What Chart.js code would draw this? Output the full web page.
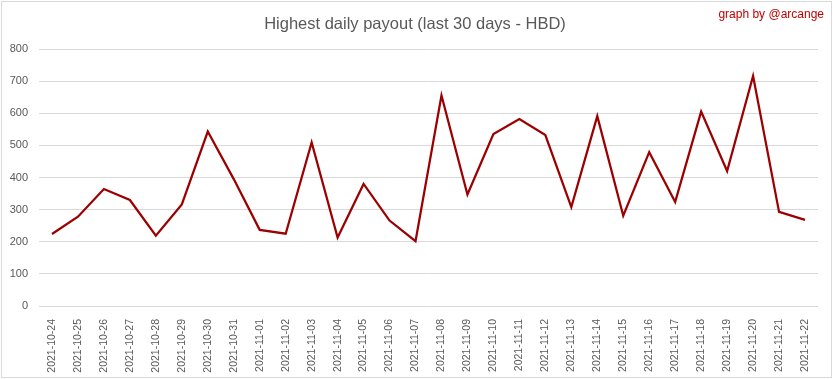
<!DOCTYPE html>
<html>
<head>
<meta charset="utf-8">
<script src="https://cdn.jsdelivr.net/npm/chart.js@4.4.0/dist/chart.umd.min.js"></script>
<style>
  html, body { margin: 0; padding: 0; background: #ffffff; }
  #wrap { width: 833px; height: 379px; position: relative; }
</style>
</head>
<body>
<div id="wrap"><canvas id="c" width="833" height="379"></canvas></div>
<script>
const categories = ["2021-10-24","2021-10-25","2021-10-26","2021-10-27","2021-10-28","2021-10-29","2021-10-30","2021-10-31","2021-11-01","2021-11-02","2021-11-03","2021-11-04","2021-11-05","2021-11-06","2021-11-07","2021-11-08","2021-11-09","2021-11-10","2021-11-11","2021-11-12","2021-11-13","2021-11-14","2021-11-15","2021-11-16","2021-11-17","2021-11-18","2021-11-19","2021-11-20","2021-11-21","2021-11-22"];
const payoutValues = [224, 278, 364, 330, 219, 316, 543, 395, 237, 225, 509, 213, 380, 266, 202, 655, 347, 535, 582, 532, 308, 591, 281, 479, 324, 605, 420, 716, 293, 268];
const yTicks = [0, 100, 200, 300, 400, 500, 600, 700, 800];
const titleText = "Highest daily payout (last 30 days - HBD)";
const creditText = "graph by @arcange";

const decorPlugin = {
  id: 'decor',
  beforeDraw(chart) {
    const ctx = chart.ctx;
    ctx.save();
    ctx.fillStyle = '#ffffff';
    ctx.fillRect(0, 0, chart.width, chart.height);
    ctx.restore();
  },
  afterDraw(chart) {
    const ctx = chart.ctx;
    ctx.save();
    ctx.strokeStyle = '#d9d9d9';
    ctx.lineWidth = 1;
    ctx.strokeRect(1.5, 1.5, chart.width - 3, chart.height - 3);
    ctx.fillStyle = '#595959';
    ctx.font = '16.5px "Liberation Sans", Arial, sans-serif';
    ctx.textAlign = 'center';
    ctx.textBaseline = 'middle';
    ctx.fillText(titleText, 415, 24);
    ctx.fillStyle = '#c00000';
    ctx.font = '12px "Liberation Sans", Arial, sans-serif';
    ctx.textAlign = 'right';
    ctx.fillText(creditText, 824, 15);
    ctx.restore();
  }
};

new Chart(document.getElementById('c'), {
  type: 'line',
  data: {
    labels: categories,
    datasets: [{
      data: payoutValues,
      borderColor: '#9c0000',
      borderWidth: 2.25,
      pointRadius: 0,
      tension: 0,
      fill: false
    }]
  },
  options: {
    responsive: false,
    animation: false,
    layout: { padding: { top: 49, right: 15, left: 0, bottom: 0 } },
    plugins: { legend: { display: false }, title: { display: false }, tooltip: { enabled: false } },
    scales: {
      x: {
        offset: true,
        grid: { display: false },
        border: { display: false },
        ticks: {
          color: '#595959',
          font: { family: '"Liberation Sans", Arial, sans-serif', size: 10.5 },
          minRotation: 90, maxRotation: 90, autoSkip: false, padding: 5
        },
        afterFit(s) { s.height = 73; }
      },
      y: {
        min: 0, max: 800,
        afterBuildTicks(s) { s.ticks = yTicks.map(v => ({ value: v })); },
        grid: { color: '#d9d9d9', lineWidth: 1, drawTicks: false },
        border: { display: false },
        ticks: {
          color: '#595959',
          font: { family: '"Liberation Sans", Arial, sans-serif', size: 11 },
          padding: 11
        },
        afterFit(s) { s.width = 39; }
      }
    }
  },
  plugins: [decorPlugin]
});
</script>
</body>
</html>
